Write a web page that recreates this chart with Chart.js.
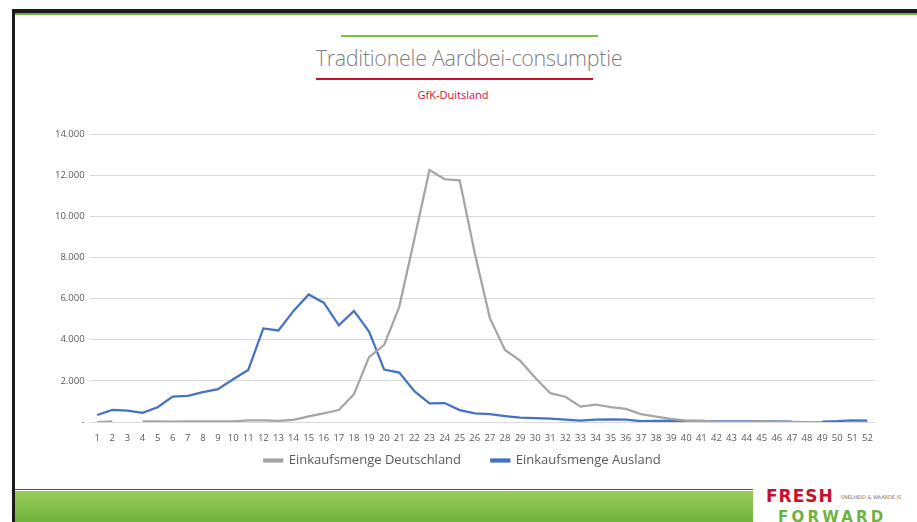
<!DOCTYPE html>
<html>
<head>
<meta charset="utf-8">
<script src="https://cdn.jsdelivr.net/npm/chart.js@4/dist/chart.umd.min.js"></script>
<style>
  body { margin: 0; background: #fff; width: 917px; height: 522px; overflow: hidden; position: relative; font-family: "Open Sans", sans-serif; }
  .frameTop { position: absolute; left: 14px; top: 9px; width: 903px; height: 4px; background: #1a1a1a; }
  .frameTopGreen { position: absolute; left: 14px; top: 13px; width: 903px; height: 2px; background: #6fb33f; }
  .frameLeft { position: absolute; left: 12px; top: 9px; width: 3px; height: 513px; background: #1a1a1a; }
  .lineGreen { position: absolute; left: 341px; top: 35px; width: 257px; height: 2px; background: #7ac143; }
  .lineRed { position: absolute; left: 316px; top: 78px; width: 277px; height: 2px; background: #c8102e; }
  .title { position: absolute; left: 0; width: 938px; top: 43px; text-align: center; font-size: 21.5px; color: #7f7f7f; letter-spacing: -0.3px; font-weight: 300; }
  .subtitle { position: absolute; left: 0; width: 906px; top: 87px; text-align: center; font-size: 11px; color: #d4122e; }
  .bottomRed { position: absolute; left: 15px; top: 489px; width: 738px; height: 1px; background: #b03030; }
  .bottomBar { position: absolute; left: 15px; top: 491px; width: 738px; height: 31px; background: linear-gradient(to bottom, #9acd5a, #6fb33f); }
  .logo1 { position: absolute; left: 766px; top: 486px; font: bold 17px "DejaVu Sans", sans-serif; color: #c8102e; letter-spacing: 1px; }
  .logo1 small { font: 5px "DejaVu Sans", sans-serif; color: #777; letter-spacing: 0; vertical-align: middle; }
  .logo2 { position: absolute; left: 778px; top: 508px; font: bold 15px "DejaVu Sans", sans-serif; color: #6fb33f; letter-spacing: 3.2px; }
  #wrap { position: absolute; left: 0; top: 120px; width: 917px; height: 357px; }
</style>
</head>
<body>
<div class="frameTop"></div>
<div class="frameTopGreen"></div>
<div class="frameLeft"></div>
<div class="lineGreen"></div>
<div class="title">Traditionele Aardbei-consumptie</div>
<div class="lineRed"></div>
<div class="subtitle">GfK-Duitsland</div>
<div id="wrap"><canvas id="myChart"></canvas></div>
<div class="bottomRed"></div>
<div class="bottomBar"></div>
<div class="logo1">FRESH <small>SNELHEID &amp; WAARDE IS</small></div>
<div class="logo2">FORWARD</div>
<script>
  // weeks 1..52
  var weeks = ['1', '2', '3', '4', '5', '6', '7', '8', '9', '10',
    '11', '12', '13', '14', '15', '16', '17', '18', '19', '20',
    '21', '22', '23', '24', '25', '26', '27', '28', '29', '30',
    '31', '32', '33', '34', '35', '36', '37', '38', '39', '40',
    '41', '42', '43', '44', '45', '46', '47', '48', '49', '50',
    '51', '52'];

  var deutschland = [0, 30, null, 30, 30, 20, 30, 30, 30, 30,
    80, 80, 60, 100, 270, 420, 580, 1350, 3150, 3750,
    5600, 8900, 12250, 11800, 11750, 8200, 5050, 3500, 2980, 2150,
    1400, 1230, 750, 850, 720, 640, 380, 260, 150, 70,
    50, 20, 10, 10, 40, 20, 10, 0, 0, null,
    null, null];

  var ausland = [340, 590, 550, 450, 720, 1230, 1270, 1450, 1600, 2080,
    2530, 4550, 4450, 5400, 6200, 5800, 4700, 5400, 4400, 2550,
    2400, 1500, 900, 920, 580, 420, 380, 290, 210, 190,
    160, 120, 70, 110, 130, 120, 40, 60, 70, 60,
    50, 30, 30, 30, 40, 30, 20, null, 20, 40,
    80, 70];

  var yTicks = [0, 2000, 4000, 6000, 8000, 10000, 12000, 14000];

  function fmt(v) {
    if (v === 0) return '-';
    return v.toLocaleString('de-DE');
  }

  new Chart(document.getElementById('myChart'), {
    type: 'line',
    data: {
      labels: weeks,
      datasets: [{
        label: 'Einkaufsmenge Deutschland',
        data: deutschland,
        borderColor: '#a5a5a5',
        backgroundColor: '#a5a5a5',
        borderWidth: 2.25,
        pointRadius: 0,
        tension: 0,
        spanGaps: false
      }, {
        label: 'Einkaufsmenge Ausland',
        data: ausland,
        borderColor: '#4472c4',
        backgroundColor: '#4472c4',
        borderWidth: 2.25,
        pointRadius: 0,
        tension: 0,
        spanGaps: false
      }]
    },
    options: {
      responsive: true,
      maintainAspectRatio: false,
      animation: false,
      layout: { padding: { left: 50, right: 42, top: 14, bottom: 0 } },
      scales: {
        x: {
          offset: true,
          grid: { display: false },
          border: { display: false },
          ticks: { color: '#595959', font: { family: 'Open Sans', size: 9.5 }, maxRotation: 0, autoSkip: false, padding: 3 },
          afterFit: function (axis) { axis.height = 22; }
        },
        y: {
          min: 0,
          max: 14000,
          afterBuildTicks: function (axis) {
            axis.ticks = yTicks.map(function (v) { return { value: v }; });
          },
          grid: { color: '#d9d9d9', lineWidth: 1, drawTicks: false },
          border: { display: false },
          ticks: {
            color: '#595959',
            font: { family: 'Open Sans', size: 9.5 },
            padding: 5,
            callback: function (v) { return fmt(v); }
          }
        }
      },
      plugins: {
        legend: {
          position: 'bottom',
          labels: {
            color: '#595959',
            font: { family: 'Open Sans', size: 13 },
            boxWidth: 18,
            boxHeight: 2,
            padding: 10,
            generateLabels: function (chart) {
              var items = Chart.defaults.plugins.legend.labels.generateLabels(chart);
              // wider gap between the two entries
              items[0].text = items[0].text + '\u00a0\u00a0\u00a0\u00a0\u00a0\u00a0';
              return items;
            }
          }
        },
        tooltip: { enabled: false }
      }
    }
  });
</script>
</body>
</html>
